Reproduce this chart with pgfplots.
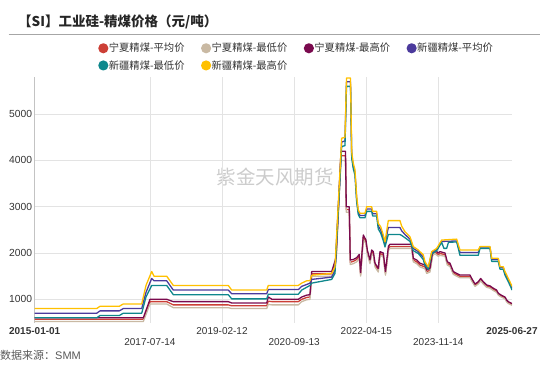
\documentclass[border=0pt]{standalone}
\usepackage{pgfplots}
\pgfplotsset{compat=1.18}
\usepackage{fontspec}
\setmainfont{Liberation Sans}
\newfontfamily\cjk{Noto Sans CJK SC}
\definecolor{nxavg}{HTML}{CC3F36}
\definecolor{nxmin}{HTML}{C9B9A3}
\definecolor{nxmax}{HTML}{7A0A4E}
\definecolor{xjavg}{HTML}{4B3A9C}
\definecolor{xjmin}{HTML}{0E878C}
\definecolor{xjmax}{HTML}{FFC000}
\definecolor{gridc}{HTML}{E3E3E3}
\definecolor{tickc}{HTML}{333333}
\definecolor{axisc}{HTML}{555555}
\definecolor{wm}{HTML}{CCCCCC}
\begin{document}
\begin{tikzpicture}
\useasboundingbox (0,0) rectangle (550bp,367bp);
\node[font=\cjk\fontsize{19.5bp}{20bp}\selectfont, text=wm] at (275bp,190.3bp) {紫金天风期货};
\begin{axis}[
  at={(34.7bp,44.3bp)}, anchor=south west,
  scale only axis, width=477.3bp, height=245.6bp,
  xmin=2015, xmax=2025.486, ymin=495, ymax=5800,
  axis line style={draw=none},
  major tick length=0pt, minor tick length=0pt,
  xtick={2015,2019.115,2022.285,2025.486},
  xticklabels={\textbf{2015-01-01},2019-02-12,2022-04-15,\textbf{2025-06-27}},
  minor xtick={2019.115,2022.285},
  xminorgrids=true,
  extra x ticks={2017.532,2020.700,2023.868},
  extra x tick labels={2017-07-14,2020-09-13,2023-11-14},
  extra x tick style={xmajorgrids=true, xticklabel style={yshift=-11bp}},
  ytick={1000,2000,3000,4000,5000},
  ymajorgrids=true,
  grid style={gridc, line width=0.9bp},
  minor grid style={gridc, line width=0.9bp},
  scaled ticks=false,
  /pgf/number format/set thousands separator={},
  /pgf/number format/assume math mode=true,
  yticklabel style={anchor=east, inner sep=0pt, xshift=-2.4bp, font=\fontsize{10.3bp}{12bp}\selectfont, text=tickc},
  xticklabel style={anchor=north, inner sep=0pt, yshift=-4.7bp, font=\fontsize{10bp}{12bp}\selectfont, text=tickc},
  legend columns=4,
  legend cell align=left,
  legend image code/.code={\fill[#1] (4.4bp,0bp) circle (4.4bp);},
  legend style={at={(0.1328,1.141)}, anchor=north west, draw=none, fill=none, inner sep=0pt,
    font=\cjk\fontsize{10.3bp}{12bp}\selectfont, text=tickc,
    nodes={inner sep=0.5bp},
    /tikz/every even column/.append style={column sep=16bp},
    row sep=6bp},
  every axis plot/.append style={line width=1.3bp, line join=round},
]
\draw[axisc, line width=1bp] (rel axis cs:0,0) -- (rel axis cs:0,1);

% Ningxia average
\addplot[nxavg] coordinates {
(2015.000,570)(2017.386,570)(2017.533,950)(2017.900,950)(2018.045,880)(2019.253,880)(2019.328,860)(2020.097,860)
(2020.132,960)(2020.213,950)(2020.791,950)(2020.866,1000)(2020.975,1040)(2021.048,1050)(2021.085,1550)(2021.525,1550)
(2021.620,1850)(2021.729,4100)(2021.828,4100)(2021.845,2940)(2021.911,2940)(2021.933,1800)(2021.999,1820)(2022.074,1860)
(2022.130,1930)(2022.160,1540)(2022.219,2340)(2022.278,2240)(2022.307,2025)(2022.366,1810)(2022.403,2025)(2022.439,1990)
(2022.476,1740)(2022.548,1630)(2022.586,1990)(2022.658,1960)(2022.706,1560)(2022.772,2100)(2022.805,2140)(2023.282,2140)
(2023.317,1850)(2023.392,1810)(2023.464,1740)(2023.574,1700)(2023.612,1595)(2023.684,1630)(2023.743,1990)(2023.794,2025)
(2023.866,1965)(2023.904,1990)(2024.014,1965)(2024.064,1775)(2024.123,1745)(2024.196,1570)(2024.271,1530)(2024.343,1495)
(2024.563,1495)(2024.600,1425)(2024.673,1305)(2024.745,1355)(2024.798,1425)(2024.855,1355)(2024.930,1285)(2025.002,1265)
(2025.075,1215)(2025.149,1175)(2025.185,1110)(2025.259,1065)(2025.332,1030)(2025.369,965)(2025.404,930)(2025.486,890)
};
\addlegendentry{宁夏精煤-平均价}

% Ningxia minimum
\addplot[nxmin] coordinates {
(2015.000,520)(2017.386,520)(2017.533,900)(2017.900,900)(2018.045,820)(2019.253,820)(2019.328,800)(2020.097,800)
(2020.132,890)(2020.213,880)(2020.791,880)(2020.866,950)(2020.975,990)(2021.048,1000)(2021.085,1500)(2021.525,1500)
(2021.620,1800)(2021.729,4000)(2021.828,4000)(2021.845,2880)(2021.911,2880)(2021.933,1750)(2021.999,1770)(2022.074,1810)
(2022.130,1880)(2022.160,1500)(2022.219,2290)(2022.278,2200)(2022.307,1985)(2022.366,1770)(2022.403,1985)(2022.439,1950)
(2022.476,1700)(2022.548,1590)(2022.586,1950)(2022.658,1920)(2022.706,1520)(2022.772,2060)(2022.805,2100)(2023.282,2100)
(2023.317,1810)(2023.392,1770)(2023.464,1700)(2023.574,1660)(2023.612,1560)(2023.684,1590)(2023.743,1950)(2023.794,1985)
(2023.866,1930)(2023.904,1950)(2024.014,1930)(2024.064,1740)(2024.123,1710)(2024.196,1540)(2024.271,1500)(2024.343,1465)
(2024.563,1465)(2024.600,1395)(2024.673,1280)(2024.745,1330)(2024.798,1400)(2024.855,1330)(2024.930,1260)(2025.002,1240)
(2025.075,1190)(2025.149,1150)(2025.185,1090)(2025.259,1045)(2025.332,1010)(2025.369,945)(2025.404,910)(2025.486,870)
};
\addlegendentry{宁夏精煤-最低价}

% Ningxia maximum
\addplot[nxmax] coordinates {
(2015.000,600)(2017.386,600)(2017.533,1000)(2017.900,1000)(2018.045,950)(2019.253,950)(2019.328,920)(2020.097,920)
(2020.132,1050)(2020.213,1000)(2020.791,1000)(2020.866,1050)(2020.975,1090)(2021.048,1100)(2021.085,1600)(2021.525,1600)
(2021.620,1900)(2021.729,4200)(2021.828,4200)(2021.845,3000)(2021.911,3000)(2021.933,1850)(2021.999,1860)(2022.074,1900)
(2022.130,1970)(2022.160,1580)(2022.219,2390)(2022.278,2280)(2022.307,2065)(2022.366,1850)(2022.403,2065)(2022.439,2030)
(2022.476,1780)(2022.548,1670)(2022.586,2030)(2022.658,2000)(2022.706,1600)(2022.772,2150)(2022.805,2190)(2023.282,2190)
(2023.317,1886)(2023.392,1850)(2023.464,1780)(2023.574,1740)(2023.612,1633)(2023.684,1670)(2023.743,2028)(2023.794,2065)
(2023.866,2000)(2023.904,2030)(2024.014,2000)(2024.064,1812)(2024.123,1780)(2024.196,1600)(2024.271,1560)(2024.343,1525)
(2024.563,1525)(2024.600,1453)(2024.673,1330)(2024.745,1380)(2024.798,1450)(2024.855,1380)(2024.930,1310)(2025.002,1290)
(2025.075,1240)(2025.149,1200)(2025.185,1130)(2025.259,1085)(2025.332,1050)(2025.369,985)(2025.404,950)(2025.486,910)
};
\addlegendentry{宁夏精煤-最高价}

% Xinjiang average
\addplot[xjavg] coordinates {
(2015.000,700)(2016.362,700)(2016.435,750)(2016.859,750)(2016.946,800)(2017.351,800)(2017.445,1150)(2017.570,1450)
(2017.621,1400)(2017.900,1400)(2018.045,1200)(2019.253,1200)(2019.328,1120)(2020.097,1120)(2020.132,1210)(2020.791,1210)
(2020.866,1280)(2020.975,1320)(2021.048,1350)(2021.085,1430)(2021.525,1480)(2021.597,1620)(2021.744,4400)(2021.817,4420)
(2021.850,5700)(2021.938,5700)(2021.964,4120)(2021.999,3880)(2022.036,3740)(2022.074,3160)(2022.109,2880)(2022.146,2810)
(2022.256,2810)(2022.294,2950)(2022.403,2950)(2022.425,2850)(2022.513,2850)(2022.548,2580)(2022.601,2500)(2022.658,2330)
(2022.696,2190)(2022.768,2550)(2023.025,2550)(2023.062,2480)(2023.135,2400)(2023.245,2300)(2023.317,2100)(2023.427,2030)
(2023.537,1910)(2023.574,1770)(2023.647,1680)(2023.721,2000)(2023.831,2080)(2023.941,2250)(2024.271,2260)(2024.343,2010)
(2024.745,2010)(2024.783,2130)(2025.002,2130)(2025.040,1860)(2025.185,1860)(2025.222,1680)(2025.295,1680)(2025.332,1560)
(2025.404,1420)(2025.457,1310)(2025.486,1240)
};
\addlegendentry{新疆精煤-平均价}

% Xinjiang minimum
\addplot[xjmin] coordinates {
(2015.000,600)(2016.362,600)(2016.435,650)(2016.859,650)(2016.946,700)(2017.351,700)(2017.445,1050)(2017.570,1300)
(2017.900,1300)(2018.045,1100)(2019.253,1100)(2019.328,1010)(2020.097,1010)(2020.132,1110)(2020.791,1110)(2020.866,1200)
(2020.975,1260)(2021.048,1300)(2021.085,1350)(2021.525,1430)(2021.597,1560)(2021.744,4300)(2021.817,4320)(2021.850,5600)
(2021.938,5600)(2021.964,4050)(2021.999,3820)(2022.036,3680)(2022.074,3100)(2022.109,2830)(2022.146,2760)(2022.256,2760)
(2022.294,2900)(2022.403,2900)(2022.425,2800)(2022.513,2800)(2022.548,2520)(2022.601,2430)(2022.658,2270)(2022.696,2130)
(2022.768,2400)(2023.025,2400)(2023.062,2380)(2023.135,2330)(2023.245,2250)(2023.317,2050)(2023.427,1990)(2023.537,1860)
(2023.574,1730)(2023.647,1650)(2023.721,1980)(2023.831,2050)(2023.941,2230)(2023.990,2100)(2024.050,2100)(2024.090,2230)
(2024.271,2240)(2024.343,1950)(2024.745,1950)(2024.783,2100)(2025.002,2100)(2025.040,1820)(2025.185,1820)(2025.222,1650)
(2025.295,1650)(2025.332,1520)(2025.404,1380)(2025.457,1270)(2025.486,1200)
};
\addlegendentry{新疆精煤-最低价}

% Xinjiang maximum
\addplot[xjmax] coordinates {
(2015.000,800)(2016.362,800)(2016.435,850)(2016.859,850)(2016.946,900)(2017.351,900)(2017.445,1300)(2017.570,1600)
(2017.621,1500)(2017.900,1500)(2018.045,1300)(2019.253,1300)(2019.328,1200)(2020.097,1200)(2020.132,1300)(2020.791,1300)
(2020.866,1350)(2020.975,1400)(2021.048,1400)(2021.085,1520)(2021.525,1560)(2021.597,1700)(2021.744,4480)(2021.817,4500)
(2021.850,5780)(2021.938,5780)(2021.964,4190)(2021.999,3940)(2022.036,3800)(2022.074,3220)(2022.109,2930)(2022.146,2860)
(2022.256,2860)(2022.294,3000)(2022.403,3000)(2022.425,2900)(2022.513,2900)(2022.548,2640)(2022.601,2570)(2022.658,2390)
(2022.696,2240)(2022.768,2700)(2023.025,2700)(2023.062,2580)(2023.135,2460)(2023.245,2350)(2023.317,2140)(2023.427,2065)
(2023.537,1960)(2023.574,1810)(2023.647,1700)(2023.721,2030)(2023.831,2100)(2023.941,2280)(2024.271,2300)(2024.343,2065)
(2024.745,2065)(2024.783,2140)(2025.002,2140)(2025.040,1886)(2025.185,1886)(2025.222,1704)(2025.295,1704)(2025.332,1600)
(2025.404,1453)(2025.457,1345)(2025.486,1280)
};
\addlegendentry{新疆精煤-最高价}
\end{axis}
\node[anchor=west, inner sep=0pt, font=\cjk\bfseries\fontsize{13.5bp}{15bp}\selectfont, text=black!85] at (18bp,345.3bp) {【SI】工业硅-精煤价格（元/吨）};
\draw[black!35, line width=0.8bp] (8.7bp,332.7bp) -- (540bp,332.7bp);
\node[anchor=west, inner sep=0pt, font=\fontsize{11bp}{12bp}\selectfont, text=black!65] at (0bp,12bp) {{\cjk 数据来源：}SMM};
\end{tikzpicture}
\end{document}
